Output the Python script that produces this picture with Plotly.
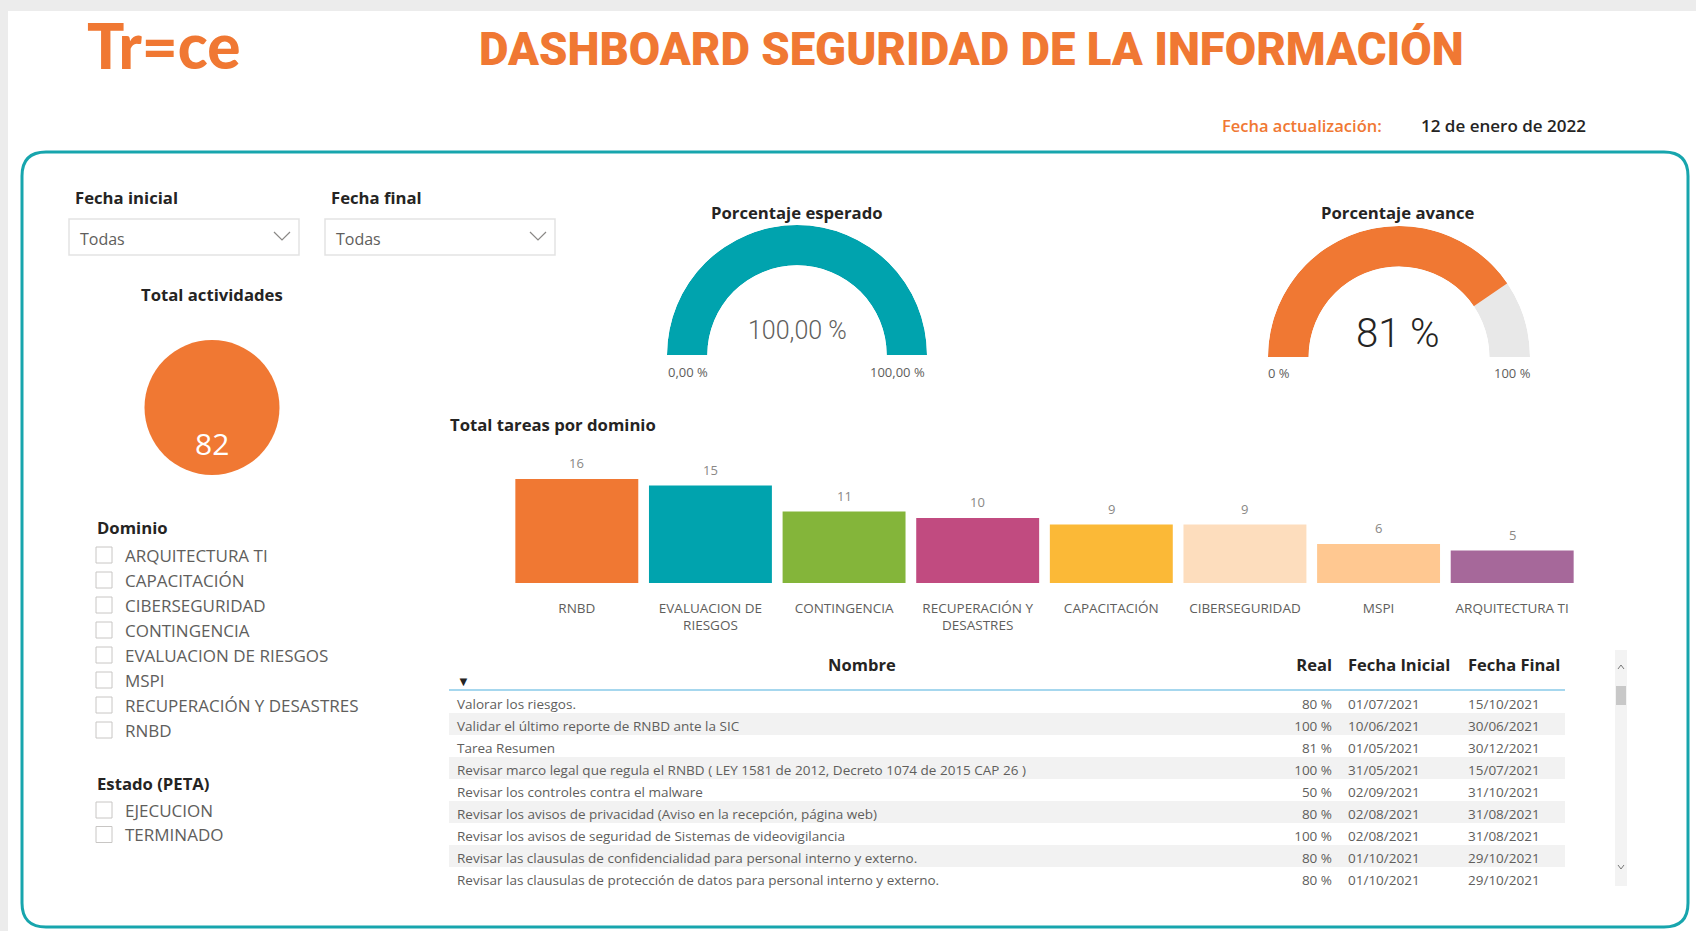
import plotly.graph_objects as go

W, H = 1696, 931


def X(px):
    return px / W


def Y(py):
    return 1 - py / H


# ---------------- data ----------------
dominios = ["RNBD", "EVALUACION DE RIESGOS", "CONTINGENCIA", "RECUPERACIÓN Y DESASTRES",
            "CAPACITACIÓN", "CIBERSEGURIDAD", "MSPI", "ARQUITECTURA TI"]
etiquetas_dominio = ["RNBD", "EVALUACION DE<br>RIESGOS", "CONTINGENCIA", "RECUPERACIÓN Y<br>DESASTRES",
                     "CAPACITACIÓN", "CIBERSEGURIDAD", "MSPI", "ARQUITECTURA TI"]
tareas_por_dominio = [16, 15, 11, 10, 9, 9, 6, 5]
colores_dominio = ["#F07833", "#00A3AE", "#84B53A", "#C14B80",
                   "#FBB937", "#FDDDBD", "#FFC891", "#A6689A"]

total_actividades = 82
porcentaje_esperado = 100.0
porcentaje_avance = 81

filtro_dominio = ["ARQUITECTURA TI", "CAPACITACIÓN", "CIBERSEGURIDAD", "CONTINGENCIA",
                  "EVALUACION DE RIESGOS", "MSPI", "RECUPERACIÓN Y DESASTRES", "RNBD"]
filtro_estado = ["EJECUCION", "TERMINADO"]

columnas_tabla = ["Nombre", "Real", "Fecha Inicial", "Fecha Final"]
tabla_nombre = [
    "Valorar los riesgos.",
    "Validar el último reporte de RNBD ante la SIC",
    "Tarea Resumen",
    "Revisar marco legal que regula el RNBD ( LEY 1581 de 2012, Decreto 1074 de 2015 CAP 26 )",
    "Revisar los controles contra el malware",
    "Revisar los avisos de privacidad (Aviso en la recepción, página web)",
    "Revisar los avisos de seguridad de Sistemas de videovigilancia",
    "Revisar las clausulas de confidencialidad para personal interno y externo.",
    "Revisar las clausulas de protección de datos para personal interno y externo.",
]
tabla_real = [80, 100, 81, 100, 50, 80, 100, 80, 80]
tabla_inicio = ["01/07/2021", "10/06/2021", "01/05/2021", "31/05/2021", "02/09/2021",
                "02/08/2021", "02/08/2021", "01/10/2021", "01/10/2021"]
tabla_fin = ["15/10/2021", "30/06/2021", "30/12/2021", "15/07/2021", "31/10/2021",
             "31/08/2021", "31/08/2021", "29/10/2021", "29/10/2021"]

# ---------------- styles ----------------
NARANJA = "#F07833"
TEAL = "#00A3AE"
MARCO = "#17A5AD"
GRIS_TXT = "#605E5C"
NEGRO = "#252423"
FONT = "Open Sans"
TITULO = 16.7

fig = go.Figure()

shapes = []
annotations = []


def rect(x0, y0, x1, y1, fill=None, line=None, lw=1, layer="below"):
    shapes.append(dict(type="rect", xref="paper", yref="paper",
                       x0=X(x0), x1=X(x1), y0=Y(y1), y1=Y(y0),
                       fillcolor=fill or "rgba(0,0,0,0)",
                       line=dict(color=line or "rgba(0,0,0,0)", width=lw if line else 0),
                       layer=layer))


def pt(x, y):
    return f"{X(x):.6f},{Y(y):.6f}"


def path(d, color, lw=1, fill=None, layer="above"):
    shapes.append(dict(type="path", xref="paper", yref="paper", path=d,
                       line=dict(color=color, width=lw),
                       fillcolor=fill or "rgba(0,0,0,0)", layer=layer))


def text(x, y, s, size, color, xanchor="left", weight=400, family=FONT):
    annotations.append(dict(xref="paper", yref="paper", x=X(x), y=Y(y), text=s,
                            showarrow=False, xanchor=xanchor, yanchor="middle",
                            font=dict(size=size, color=color, family=family, weight=weight)))


# page background band
rect(0, 0, W, 11, fill="#ECECEC")
rect(0, 0, 8, H, fill="#ECECEC")

# logo and title
text(85, 45, "Tr=ce", 62, NARANJA, weight=900, family="Lato")
text(972, 49, "DASHBOARD SEGURIDAD DE LA INFORMACIÓN", 45.5, NARANJA, xanchor="center",
     weight=900, family="Roboto")
text(1220, 125, "Fecha actualización:", 16.5, NARANJA, weight=600)
text(1419, 125, "12 de enero de 2022", 17, NEGRO, weight=600)

# rounded teal frame
fx0, fy0, fx1, fy1, r = 22, 152, 1688, 927, 24
d = (f"M {pt(fx0 + r, fy0)} L {pt(fx1 - r, fy0)} Q {pt(fx1, fy0)} {pt(fx1, fy0 + r)} "
     f"L {pt(fx1, fy1 - r)} Q {pt(fx1, fy1)} {pt(fx1 - r, fy1)} "
     f"L {pt(fx0 + r, fy1)} Q {pt(fx0, fy1)} {pt(fx0, fy1 - r)} "
     f"L {pt(fx0, fy0 + r)} Q {pt(fx0, fy0)} {pt(fx0 + r, fy0)} Z")
path(d, MARCO, lw=3, layer="below")

# date filters
for lx, label in [(74, "Fecha inicial"), (330, "Fecha final")]:
    text(lx - 1, 197, label, TITULO, NEGRO, weight=700)
    rect(lx - 5, 219, lx + 225, 255, fill="white", line="#E3E3E3", lw=1.5)
    text(lx + 4, 239, "Todas", 16, GRIS_TXT)
    cx = lx + 208
    path(f"M {pt(cx - 8, 232)} L {pt(cx, 240)} L {pt(cx + 8, 232)}", "#8A8886", lw=1.2)

# total activities
text(212, 295, "Total actividades", TITULO, NEGRO, xanchor="center", weight=700)
fig.add_trace(go.Pie(values=[total_actividades], labels=["Total actividades"],
                     marker=dict(colors=[NARANJA], line=dict(width=0)),
                     textinfo="none", hoverinfo="skip", sort=False, showlegend=False,
                     domain=dict(x=[X(143), X(281)], y=[Y(475), Y(340)])))
text(212, 443, str(total_actividades), 30, "white", xanchor="center")

# slicer lists
text(95, 527, "Dominio", TITULO, NEGRO, weight=700)
for i, name in enumerate(filtro_dominio):
    yy = 555 + i * 25
    rect(96, yy - 8, 112, yy + 8, fill="white", line="#C8C6C4", lw=1)
    text(123, yy, name, 17, GRIS_TXT)
text(95, 783, "Estado (PETA)", TITULO, NEGRO, weight=700)
for i, name in enumerate(filtro_estado):
    yy = 810 + i * 24.5
    rect(96, yy - 8, 112, yy + 8, fill="white", line="#C8C6C4", lw=1)
    text(123, yy, name, 17, GRIS_TXT)


# gauges drawn as half-ring polar bars
def gauge(sub, value, color, cx, base, R):
    fig.add_trace(go.Barpolar(r=[1], theta=[90], width=[180], marker=dict(color="#E8E8E8", line=dict(width=0)),
                              subplot=sub, hoverinfo="skip", showlegend=False))
    fig.add_trace(go.Barpolar(r=[1], theta=[value * 1.8 / 2], width=[value * 1.8],
                              marker=dict(color=color, line=dict(width=0)),
                              subplot=sub, hoverinfo="skip", showlegend=False))
    return dict(domain=dict(x=[X(cx - R), X(cx + R)], y=[Y(base), Y(base - R)]),
                sector=[0, 180], hole=0.69, bgcolor="rgba(0,0,0,0)", barmode="overlay",
                radialaxis=dict(visible=False, range=[0, 1]),
                angularaxis=dict(visible=False, rotation=180, direction="clockwise"))


polar1 = gauge("polar", porcentaje_esperado, TEAL, 797, 355, 130)
polar2 = gauge("polar2", porcentaje_avance, NARANJA, 1399, 357, 131)


def fmt2(v):
    return f"{v:.2f}".replace(".", ",") + " %"


text(797, 212, "Porcentaje esperado", TITULO, NEGRO, xanchor="center", weight=700)
text(797, 330, fmt2(porcentaje_esperado), 25, GRIS_TXT, xanchor="center", weight=300, family="Roboto")
text(688, 372, fmt2(0), 13, GRIS_TXT, xanchor="center")
text(898, 372, fmt2(100), 13, GRIS_TXT, xanchor="center")

text(1398, 212, "Porcentaje avance", TITULO, NEGRO, xanchor="center", weight=700)
text(1398, 333, f"{porcentaje_avance} %", 40, NEGRO, xanchor="center", weight=300, family="Roboto")
text(1279, 373, "0 %", 13, GRIS_TXT, xanchor="center")
text(1512, 373, "100 %", 13, GRIS_TXT, xanchor="center")

# bar chart of tasks per domain
text(448, 424, "Total tareas por dominio", TITULO, NEGRO, weight=700)
fig.add_trace(go.Bar(x=dominios, y=tareas_por_dominio, marker=dict(color=colores_dominio, line=dict(width=0)),
                     hoverinfo="skip", showlegend=False, xaxis="x", yaxis="y"))
for cat, v in zip(dominios, tareas_por_dominio):
    annotations.append(dict(xref="x", yref="y", x=cat, y=v, text=str(v), showarrow=False,
                            yanchor="middle", yshift=16,
                            font=dict(size=13, color="#8A8886", family=FONT)))

# task table (non-breaking spaces keep headers on one line)
fills = ["white" if i % 2 == 0 else "#F2F2F2" for i in range(len(tabla_nombre))]
fig.add_trace(go.Table(
    domain=dict(x=[X(449), X(1565)], y=[Y(898), Y(645)]),
    columnwidth=[826, 65, 120, 105],
    header=dict(values=["<b>" + c.replace(" ", "\u00a0") + "</b>" for c in columnas_tabla],
                align=["center", "right", "left", "left"], height=46,
                fill=dict(color="white"), line=dict(color="white", width=0),
                font=dict(size=16.5, color=NEGRO, family=FONT)),
    cells=dict(values=[tabla_nombre, [f"{v} %" for v in tabla_real], tabla_inicio, tabla_fin],
               align=["left", "right", "left", "left"], height=22,
               fill=dict(color=[fills] * 4), line=dict(color="rgba(0,0,0,0)", width=0),
               font=dict(size=13.5, color=GRIS_TXT, family=FONT)),
))
shapes.append(dict(type="line", xref="paper", yref="paper", x0=X(449), x1=X(1565), y0=Y(690), y1=Y(690),
                   line=dict(color="#A6D7EE", width=2), layer="above"))
text(463, 681, "▼", 13, NEGRO, xanchor="center")

# table scrollbar
rect(1615, 650, 1627, 886, fill="#F3F3F3")
rect(1616, 686, 1626, 705, fill="#C8C8C8")
path(f"M {pt(1618, 669)} L {pt(1621, 665)} L {pt(1624, 669)}", "#777777", lw=1)
path(f"M {pt(1618, 865)} L {pt(1621, 869)} L {pt(1624, 865)}", "#777777", lw=1)

fig.update_layout(
    width=W, height=H, margin=dict(l=0, r=0, t=0, b=0),
    paper_bgcolor="white", plot_bgcolor="rgba(0,0,0,0)",
    font=dict(family=FONT),
    showlegend=False,
    bargap=0.08,
    xaxis=dict(domain=[X(510), X(1579)], anchor="y", tickvals=dominios, ticktext=etiquetas_dominio,
               tickfont=dict(size=13.5, color=GRIS_TXT, family=FONT), showgrid=False, showline=False,
               zeroline=False, ticks="", ticklabelstandoff=15, fixedrange=True),
    yaxis=dict(domain=[Y(583), Y(583 - 17 * 6.5)], range=[0, 17], visible=False, fixedrange=True),
    polar=polar1, polar2=polar2,
    shapes=shapes, annotations=annotations,
)

fig.write_html("out.html")
